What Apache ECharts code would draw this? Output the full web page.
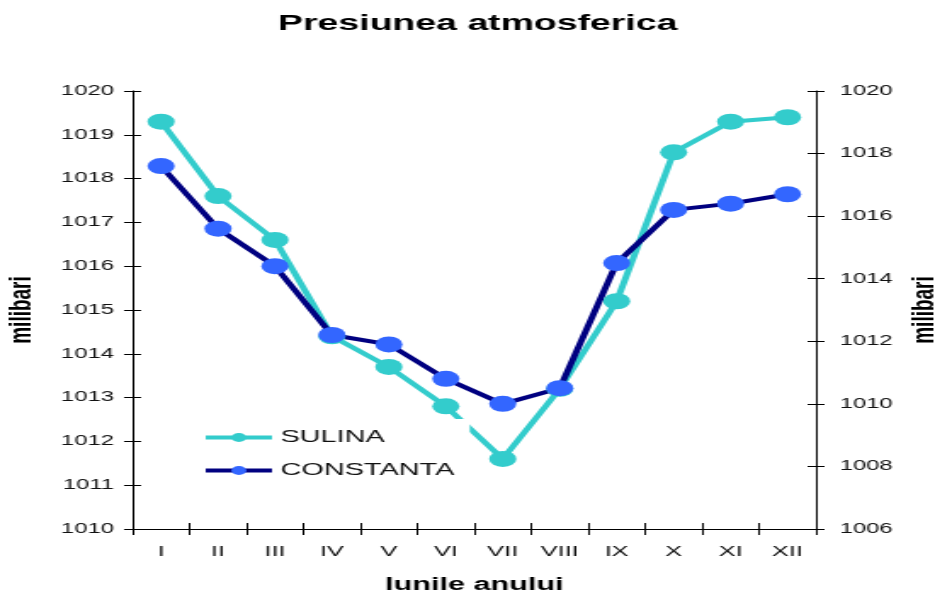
<!DOCTYPE html>
<html>
<head>
<meta charset="utf-8">
<script src="https://cdn.jsdelivr.net/npm/echarts@6/dist/echarts.min.js"></script>
<style>
  html, body { margin: 0; padding: 0; background: #fff; overflow: hidden; }
  /* the chart is laid out narrow and widened horizontally */
  #chart { width: 550px; height: 598px; transform: scaleX(1.7); transform-origin: 0 0; }
</style>
</head>
<body>
<div id="chart"></div>
<script>
// Months of the year (Roman numerals)
const months = ['I', 'II', 'III', 'IV', 'V', 'VI', 'VII', 'VIII', 'IX', 'X', 'XI', 'XII'];

// Mean monthly pressure, millibars
const sulina    = [1019.3, 1017.6, 1016.6, 1014.4, 1013.7, 1012.8, 1011.6, 1013.2, 1015.2, 1018.6, 1019.3, 1019.4];
const constanta = [1017.6, 1015.6, 1014.4, 1012.2, 1011.9, 1010.8, 1010.0, 1010.5, 1014.5, 1016.2, 1016.4, 1016.7];

// Axis ranges: [min, max, step]
const leftScale  = [1010, 1020, 1];
const rightScale = [1006, 1020, 2];

const FONT = 'Liberation Sans, Arial, sans-serif';
const INK = '#111';

function valueAxis(scale, position, withLabels, inside) {
  return {
    type: 'value',
    position: position,
    min: scale[0], max: scale[1], interval: scale[2],
    splitLine: { show: false },
    axisLine: { show: withLabels, lineStyle: { color: '#000', width: 1 } },
    axisTick: { show: true, inside: inside, length: 5, lineStyle: { color: '#000', width: 1 } },
    axisLabel: {
      show: withLabels,
      margin: position === 'left' ? 11 : 14,
      formatter: v => String(v),
      color: INK, fontFamily: FONT, fontSize: 14
    },
    name: withLabels ? 'milibari' : '',
    nameLocation: 'middle',
    nameMoveOverlap: false,
    nameGap: position === 'left' ? 56 : 54,
    nameTextStyle: { color: '#000', fontFamily: FONT, fontSize: 19, fontWeight: 'bold' }
  };
}

function categoryAxis(withLabels, inside) {
  return {
    type: 'category',
    position: 'bottom',
    data: months,
    axisLine: { show: withLabels, onZero: false, lineStyle: { color: '#000', width: 1 } },
    axisTick: { show: true, inside: inside, length: 6, lineStyle: { color: '#000', width: 1 } },
    axisLabel: { show: withLabels, margin: 15, color: INK, fontFamily: FONT, fontSize: 15 },
    name: withLabels ? 'lunile anului' : '',
    nameLocation: 'middle',
    nameMoveOverlap: false,
    nameGap: 47,
    nameTextStyle: { color: '#000', fontFamily: FONT, fontSize: 18, fontWeight: 'bold' }
  };
}

const chart = echarts.init(document.getElementById('chart'));
chart.setOption({
  animation: false,
  backgroundColor: '#fff',
  title: {
    text: 'Presiunea atmosferica',
    left: 276, top: 8, textAlign: 'center',
    textStyle: { color: '#000', fontFamily: FONT, fontSize: 22, fontWeight: 'bold' }
  },
  grid: { left: 78, right: 70, top: 91, bottom: 69, containLabel: false, outerBoundsMode: 'none' },
  legend: {
    orient: 'vertical',
    left: 109, top: 419,
    padding: [10, 9, 10, 10],
    backgroundColor: '#fff',
    itemWidth: 39, itemHeight: 11, itemGap: 16,
    lineStyle: { width: 4 },
    textStyle: { color: INK, fontFamily: FONT, fontSize: 17 },
    data: ['SULINA', 'CONSTANTA']
  },
  xAxis: [categoryAxis(true, false), categoryAxis(false, true)],
  yAxis: [
    valueAxis(leftScale, 'left', true, false),
    valueAxis(rightScale, 'right', true, false),
    valueAxis(leftScale, 'left', false, true),
    valueAxis(rightScale, 'right', false, true)
  ],
  series: [
    {
      name: 'SULINA', type: 'line', data: sulina,
      xAxisIndex: 0, yAxisIndex: 0,
      symbol: 'circle', symbolSize: 16,
      lineStyle: { color: '#33CCCC', width: 4 },
      itemStyle: { color: '#33CCCC' },
      color: '#33CCCC'
    },
    {
      name: 'CONSTANTA', type: 'line', data: constanta,
      xAxisIndex: 0, yAxisIndex: 1,
      symbol: 'circle', symbolSize: 16,
      lineStyle: { color: '#000080', width: 4 },
      itemStyle: { color: '#3366FF' },
      color: '#3366FF'
    }
  ]
});
</script>
</body>
</html>
